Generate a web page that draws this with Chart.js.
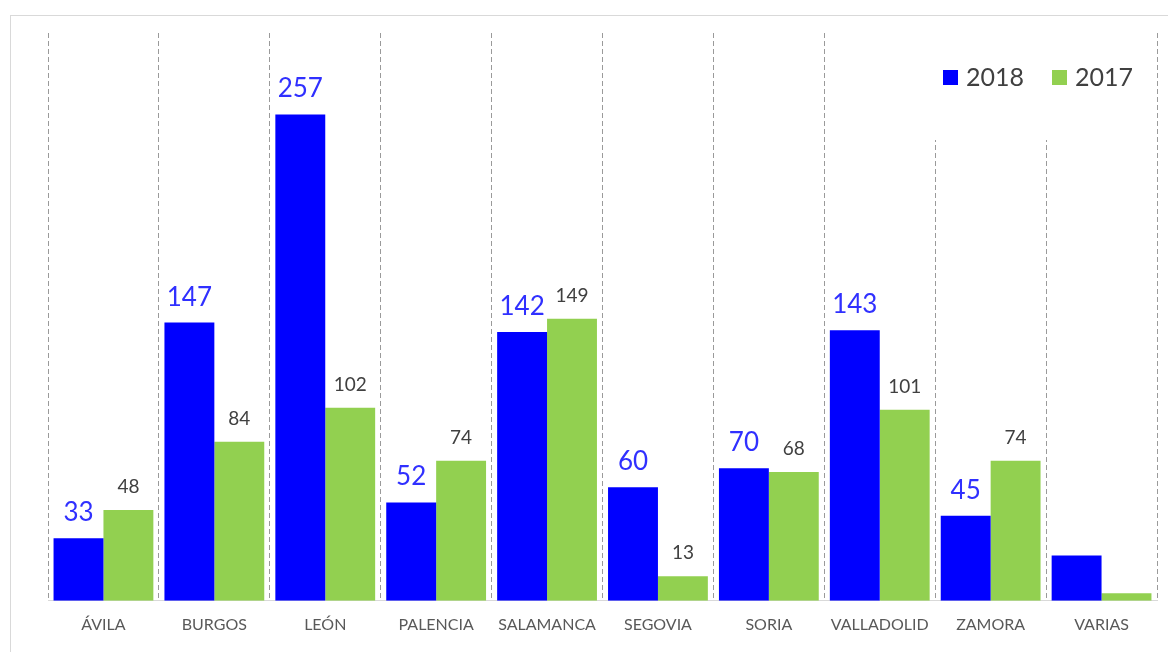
<!DOCTYPE html>
<html>
<head>
<meta charset="utf-8">
<script src="https://cdn.jsdelivr.net/npm/chart.js@4"></script>
<style>
  html, body { margin: 0; padding: 0; background: #fff; overflow: hidden; }
  #frame { position: absolute; left: 10px; top: 15px; width: 1200px; height: 700px; border: 1px solid #d9d9d9; }
  #wrap { position: absolute; left: 0; top: 0; width: 1168px; height: 652px; }
</style>
</head>
<body>
<div id="frame"></div>
<div id="wrap"><canvas id="chart"></canvas></div>
<script>
const provincias = ["ÁVILA", "BURGOS", "LEÓN", "PALENCIA", "SALAMANCA", "SEGOVIA", "SORIA", "VALLADOLID", "ZAMORA", "VARIAS"];
const datos2018 = [33, 147, 257, 52, 142, 60, 70, 143, 45, 24];
const datos2017 = [48, 84, 102, 74, 149, 13, 68, 101, 74, 4];
const sinEtiqueta = ["VARIAS"];

const FONT = "Lato, 'Open Sans', sans-serif";

// etiquetas de valor encima de cada barra
const valueLabels = {
  id: "valueLabels",
  afterDatasetsDraw(chart) {
    const ctx = chart.ctx;
    ctx.save();
    ctx.textAlign = "center";
    ctx.textBaseline = "alphabetic";
    chart.data.datasets.forEach((ds, i) => {
      const meta = chart.getDatasetMeta(i);
      meta.data.forEach((bar, j) => {
        if (sinEtiqueta.includes(chart.data.labels[j])) return;
        if (i === 0) {
          ctx.font = "26px " + FONT;
          ctx.fillStyle = "#3030ff";
        } else {
          ctx.font = "19px " + FONT;
          ctx.fillStyle = "#404040";
        }
        ctx.fillText(ds.data[j], bar.x, bar.y - 17);
      });
    });
    ctx.restore();
  },
};

// leyenda estilo Excel, con fondo blanco que tapa la rejilla
const excelLegend = {
  id: "excelLegend",
  beforeDatasetsDraw(chart) {
    const ctx = chart.ctx;
    ctx.save();
    ctx.fillStyle = "#fff";
    ctx.fillRect(925, chart.chartArea.top - 2, 225, 142 - chart.chartArea.top);
    ctx.restore();
  },
  afterDraw(chart) {
    const ctx = chart.ctx;
    ctx.save();
    ctx.font = "25px " + FONT;
    ctx.textBaseline = "middle";
    ctx.textAlign = "left";
    let x = 943;
    chart.data.datasets.forEach((ds) => {
      ctx.fillStyle = ds.backgroundColor;
      ctx.fillRect(x, 70, 15, 15);
      ctx.fillStyle = "#404040";
      ctx.fillText(ds.label, x + 23, 78);
      x += 109;
    });
    ctx.restore();
  },
};

new Chart(document.getElementById("chart"), {
  type: "bar",
  data: {
    labels: provincias,
    datasets: [
      { label: "2018", data: datos2018, backgroundColor: "#0000ff" },
      { label: "2017", data: datos2017, backgroundColor: "#92d050" },
    ],
  },
  options: {
    responsive: true,
    maintainAspectRatio: false,
    animation: false,
    datasets: { bar: { categoryPercentage: 0.9, barPercentage: 1.0, borderWidth: 0 } },
    layout: { padding: { left: 48, right: 11, top: 33, bottom: 4 } },
    plugins: { legend: { display: false }, tooltip: { enabled: false } },
    scales: {
      x: {
        grid: { display: true, offset: true, drawTicks: false, color: "#9a9a9a", lineWidth: 1 },
        border: { display: true, color: "#d9d9d9", width: 1, dash: [5, 3] },
        ticks: { color: "#595959", font: { family: FONT, size: 16 }, padding: 14 },
      },
      y: {
        display: false,
        min: 0,
        max: 300,
      },
    },
  },
  plugins: [valueLabels, excelLegend],
});
</script>
</body>
</html>
